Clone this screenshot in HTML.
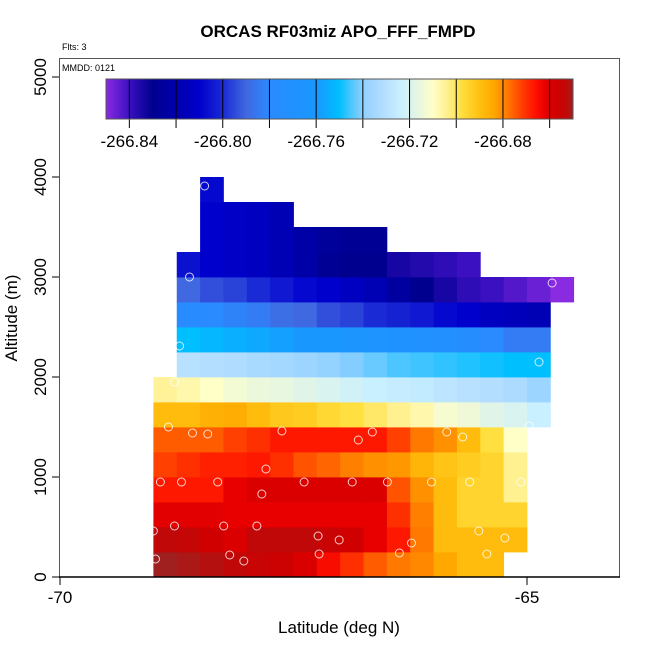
<!DOCTYPE html>
<html><head><meta charset="utf-8"><style>
body{margin:0;background:#fff;}
svg{display:block;font-family:"Liberation Sans",Arial,sans-serif;}
</style></head><body>
<svg id="chart" width="650" height="650" viewBox="0 0 650 650">
<text x="338" y="37" text-anchor="middle" font-size="17" font-weight="bold">ORCAS RF03miz APO_FFF_FMPD</text>
<text x="62" y="50" font-size="9">Flts: 3</text>
<text x="62" y="71" font-size="9">MMDD: 0121</text>
<g id="cells"></g>
<g id="pts"></g>
<g id="cbar"></g>
<rect x="59.5" y="58.5" width="560" height="518.5" fill="none" stroke="#555" stroke-width="1"/>
<line x1="59" y1="577" x2="620" y2="577" stroke="#000" stroke-width="1.5"/>
<g id="axes"></g>
<text x="339" y="633" text-anchor="middle" font-size="17">Latitude (deg N)</text>
<text transform="translate(17,318) rotate(-90)" text-anchor="middle" font-size="17">Altitude (m)</text>
</svg>
<script>
// altitude bins (m, bottom edge) and first latitude bin for each row
const rowAlt = [0,250,500,750,1000,1250,1500,1750,2000,2250,2500,2750,3000,3250,3500,3750];
const rowStartLat = [-69,-69,-69,-69,-69,-69,-69,-69,-68.75,-68.75,-68.75,-68.75,-68.75,-68.5,-68.5,-68.5];
const row0 = [-266.650,-266.651,-266.652,-266.653,-266.655,-266.656,-266.659,-266.665,-266.670,-266.675,-266.678,-266.680,-266.684,-266.689,-266.689];
const row1 = [-266.653,-266.654,-266.657,-266.659,-266.653,-266.653,-266.653,-266.655,-266.657,-266.662,-266.667,-266.678,-266.689,-266.689,-266.689,-266.689];
const row2 = [-266.661,-266.661,-266.661,-266.662,-266.662,-266.662,-266.662,-266.662,-266.662,-266.662,-266.670,-266.679,-266.689,-266.695,-266.695,-266.695];
const row3 = [-266.667,-266.667,-266.667,-266.662,-266.659,-266.659,-266.659,-266.659,-266.659,-266.659,-266.674,-266.681,-266.689,-266.695,-266.695,-266.704];
const row4 = [-266.672,-266.670,-266.668,-266.668,-266.667,-266.670,-266.674,-266.676,-266.679,-266.681,-266.682,-266.687,-266.691,-266.693,-266.695,-266.704];
const row5 = [-266.675,-266.675,-266.675,-266.672,-266.670,-266.667,-266.667,-266.667,-266.667,-266.667,-266.672,-266.678,-266.681,-266.689,-266.698,-266.710];
const row6 = [-266.689,-266.689,-266.686,-266.685,-266.689,-266.692,-266.693,-266.696,-266.698,-266.701,-266.704,-266.707,-266.712,-266.714,-266.718,-266.720,-266.724];
const row7 = [-266.705,-266.707,-266.710,-266.713,-266.715,-266.716,-266.718,-266.720,-266.722,-266.724,-266.725,-266.726,-266.728,-266.730,-266.731,-266.733,-266.737];
const row8 = [-266.730,-266.731,-266.732,-266.734,-266.735,-266.737,-266.739,-266.741,-266.743,-266.745,-266.746,-266.747,-266.748,-266.749,-266.750,-266.750];
const row9 = [-266.750,-266.752,-266.754,-266.756,-266.758,-266.760,-266.762,-266.764,-266.766,-266.768,-266.770,-266.772,-266.776,-266.780,-266.784,-266.784];
const row10 = [-266.778,-266.780,-266.782,-266.784,-266.788,-266.790,-266.794,-266.796,-266.800,-266.802,-266.804,-266.808,-266.810,-266.814,-266.816,-266.818];
const row11 = [-266.790,-266.794,-266.796,-266.800,-266.804,-266.808,-266.810,-266.814,-266.818,-266.824,-266.830,-266.834,-266.838,-266.840,-266.843,-266.846,-266.850];
const row12 = [-266.806,-266.810,-266.812,-266.814,-266.818,-266.822,-266.828,-266.830,-266.830,-266.834,-266.836,-266.838,-266.840];
const row13 = [-266.810,-266.812,-266.814,-266.818,-266.822,-266.826,-266.828,-266.828];
const row14 = [-266.810,-266.812,-266.814,-266.818];
const row15 = [-266.808];
const rows = [row0,row1,row2,row3,row4,row5,row6,row7,row8,row9,row10,row11,row12,row13,row14,row15];
// flight sample points
const ptLat = [-68.452,-68.613,-68.720,-68.774,-64.871,-64.731,-68.839,-68.581,-68.419,-67.624,-66.806,-66.656,-65.860,-65.688,-64.978,-67.796,-68.925,-68.699,-68.312,-67.839,-67.387,-66.871,-66.495,-66.022,-65.613,-65.065,-69.000,-68.774,-68.247,-67.892,-67.237,-67.011,-66.237,-65.516,-65.237,-68.978,-68.183,-68.032,-67.226,-66.366,-65.430];
const ptAlt = [3910,3000,2310,1950,2150,2940,1500,1440,1430,1460,1370,1450,1450,1400,1510,1080,950,950,950,830,950,950,950,950,950,950,460,510,510,510,410,370,340,460,390,180,220,160,230,240,230];
const xTicks = [-70,-65];
const yTicks = [0,1000,2000,3000,4000,5000];
const cbTicks = [-266.84,-266.80,-266.76,-266.72,-266.68];
const cbMin = -266.85, cbMax = -266.65;
const latBin = 0.25, altBin = 250;

const NS='http://www.w3.org/2000/svg';
const X = lat => 60 + (lat + 70) * 93.4;
const Y = alt => 577 - alt * 0.1;
const CBX = v => 106 + (v - cbMin) / (cbMax - cbMin) * 467;
const stops = [[0,'#8a2be2'],[0.05,'#3a10c0'],[0.1,'#00008f'],[0.2,'#0000cc'],[0.25,'#1a2ad4'],[0.3,'#4068e0'],[0.35,'#2a8aff'],[0.45,'#1898ff'],[0.5,'#00bfff'],[0.52,'#40c4ff'],[0.55,'#90d0ff'],[0.6,'#b8e0ff'],[0.63,'#c8f0ff'],[0.66,'#e0f4e8'],[0.7,'#ffffc8'],[0.73,'#fff090'],[0.76,'#ffe040'],[0.8,'#ffc010'],[0.83,'#ffa800'],[0.86,'#ff7800'],[0.89,'#ff4000'],[0.92,'#ff1000'],[0.94,'#e80000'],[0.965,'#d00000'],[0.985,'#c00808'],[1,'#a02020']];
function hex(h){return [1,3,5].map(i=>parseInt(h.substr(i,2),16));}
function color(v){
  let t=(v-cbMin)/(cbMax-cbMin); t=Math.max(0,Math.min(1,t));
  for(let i=1;i<stops.length;i++){
    if(t<=stops[i][0]){
      const a=stops[i-1],b=stops[i],f=(t-a[0])/(b[0]-a[0]||1);
      const ca=hex(a[1]),cb=hex(b[1]);
      return 'rgb('+ca.map((c,k)=>Math.round(c+(cb[k]-c)*f)).join(',')+')';
    }
  }
  return stops[stops.length-1][1];
}
function mk(tag,attrs,parent){const e=document.createElementNS(NS,tag);for(const k in attrs)e.setAttribute(k,attrs[k]);parent.appendChild(e);return e;}

const cells=document.getElementById('cells');
rows.forEach((r,ri)=>{
  r.forEach((v,ci)=>{
    const lat=rowStartLat[ri]+ci*latBin;
    const x0=X(lat),x1=X(lat+latBin),y1=Y(rowAlt[ri]),y0=Y(rowAlt[ri]+altBin);
    const e=mk('rect',{x:x0.toFixed(2),y:y0.toFixed(2),width:(x1-x0+0.4).toFixed(2),height:(y1-y0+0.4).toFixed(2),fill:color(v)},cells);
    
    
  });
});
const pts=document.getElementById('pts');
ptLat.forEach((lat,i)=>{
  const e=mk('circle',{cx:X(lat).toFixed(1),cy:Y(ptAlt[i]).toFixed(1),r:4,fill:'none',stroke:'#fff','stroke-opacity':0.8,'stroke-width':1},pts);
  
  
});
const cb=document.getElementById('cbar');
for(let px=106;px<573;px++){
  const v=cbMin+(px+0.5-106)/467*(cbMax-cbMin);
  const e=mk('rect',{x:px,y:79,width:1.2,height:40,fill:color(v)},cb);
  
  
}
for(let k=0;k<=9;k++){
  const v=-266.84+k*0.02;
  const e=mk('line',{x1:CBX(v),x2:CBX(v),y1:79,y2:128,stroke:'#000','stroke-width':1},cb);
  
  
}
const cbo=mk('rect',{x:106,y:79,width:467,height:40,fill:'none',stroke:'#555','stroke-width':1},cb);


cbTicks.forEach(v=>{
  const t=mk('text',{x:CBX(v),y:147,'text-anchor':'middle','font-size':17},cb);
  t.textContent=v.toFixed(2);
  
  
});
const ax=document.getElementById('axes');
xTicks.forEach(v=>{
  const l=mk('line',{x1:X(v),x2:X(v),y1:577,y2:585,stroke:'#000'},ax);
  
  
  const t=mk('text',{x:X(v),y:603,'text-anchor':'middle','font-size':17},ax);
  t.textContent=String(v);
  
  
});
yTicks.forEach(v=>{
  const l=mk('line',{x1:52,x2:59,y1:Y(v),y2:Y(v),stroke:'#000'},ax);
  
  
  const t=mk('text',{transform:'translate(46,'+Y(v)+') rotate(-90)','text-anchor':'middle','font-size':17},ax);
  t.textContent=String(v);
  
  
});
</script>
</body></html>
